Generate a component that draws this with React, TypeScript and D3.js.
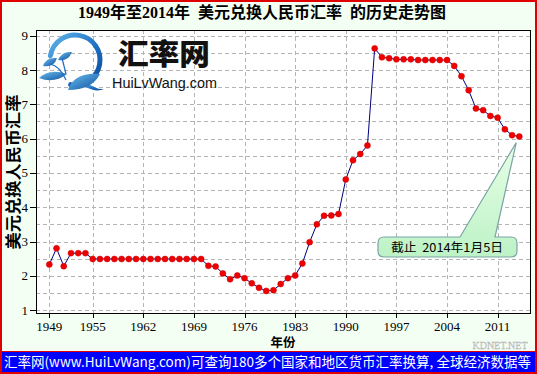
import React from "react";
import * as d3 from "d3";

const years = [
  1949, 1950, 1951, 1952, 1953, 1954, 1955, 1956, 1957, 1958, 1959, 1960, 1961, 1962, 1963, 1964,
  1965, 1966, 1967, 1968, 1969, 1970, 1971, 1972, 1973, 1974, 1975, 1976, 1977, 1978, 1979, 1980,
  1981, 1982, 1983, 1984, 1985, 1986, 1987, 1988, 1989, 1990, 1991, 1992, 1993, 1994, 1995, 1996,
  1997, 1998, 1999, 2000, 2001, 2002, 2003, 2004, 2005, 2006, 2007, 2008, 2009, 2010, 2011, 2012,
  2013, 2014,
];
const rates = [
  2.33, 2.8, 2.28, 2.66, 2.66, 2.66, 2.49, 2.49, 2.49, 2.49, 2.49, 2.49, 2.49, 2.49, 2.49, 2.49,
  2.49, 2.49, 2.49, 2.49, 2.49, 2.49, 2.29, 2.27, 2.07, 1.9, 2.01, 1.93, 1.78, 1.65, 1.56, 1.58,
  1.76, 1.93, 2.01, 2.36, 2.98, 3.5, 3.75, 3.76, 3.8, 4.81, 5.37, 5.55, 5.8, 8.63, 8.37, 8.34,
  8.31, 8.31, 8.31, 8.29, 8.29, 8.29, 8.29, 8.29, 8.12, 7.82, 7.41, 6.88, 6.83, 6.66, 6.61, 6.27,
  6.1, 6.06,
];
const xTickYears = [1949, 1955, 1962, 1969, 1976, 1983, 1990, 1997, 2004, 2011];
const yTicks = [1, 2, 3, 4, 5, 6, 7, 8, 9];
const yGrid = [1, 1.5, 2, 2.5, 3, 3.5, 4, 4.5, 5, 5.5, 6, 6.5, 7, 7.5, 8, 8.5, 9];

const titleText = "1949年至2014年  美元兑换人民币汇率  的历史走势图";
const yTitle = "美元兑换人民币汇率";
const xTitle = "年份";
const calloutText = "截止  2014年1月5日";
const bannerText = "汇率网(www.HuiLvWang.com)可查询180多个国家和地区货币汇率换算, 全球经济数据等";

const W = 537;
const H = 374;
const frame = { left: 36, right: 531, top: 30, bottom: 313 };

export default function App() {
  const x = d3.scaleLinear().domain([1949, 2014]).range([49.3, 519.3]);
  const y = d3.scaleLinear().domain([1, 9]).range([310.1, 35.7]);
  const pts = years.map((yr, i) => [x(yr), y(rates[i])] as [number, number]);
  const line = d3.line()(pts) || "";
  const last = pts[pts.length - 1];

  const serif = "'Liberation Serif', 'Noto Sans CJK SC', serif";
  const cjk = "'Noto Sans CJK SC', sans-serif";
  const pre = { whiteSpace: "pre" as const };

  const cx = 75, cy = 60, r = 25;
  const a0 = (190 * Math.PI) / 180, a1 = (100 * Math.PI) / 180;
  const ring = `M${cx + r * Math.cos(a0)},${cy + r * Math.sin(a0)} A${r},${r} 0 1 1 ${cx + r * Math.cos(a1)},${cy + r * Math.sin(a1)}`;

  return (
    <svg width={W} height={H} style={{ position: "absolute", left: 0, top: 0 }} xmlns="http://www.w3.org/2000/svg">
      <defs>
        <linearGradient id="ringG" x1="0" y1="0" x2="1" y2="1">
          <stop offset="0" stopColor="#5fb4ea" />
          <stop offset="0.6" stopColor="#1a6cc0" />
          <stop offset="1" stopColor="#0b4a98" />
        </linearGradient>
        <linearGradient id="leafG" x1="0" y1="0" x2="1" y2="1">
          <stop offset="0" stopColor="#6cc0f0" />
          <stop offset="1" stopColor="#0d4f9e" />
        </linearGradient>
        <linearGradient id="calG" x1="0" y1="0" x2="0" y2="1">
          <stop offset="0" stopColor="#e6ffe6" />
          <stop offset="1" stopColor="#bdf2c6" />
        </linearGradient>
      </defs>
      <rect x={0} y={0} width={W} height={H} fill="#f4fff4" />

      <text x={262} y={18} textAnchor="middle" fontFamily={serif} fontWeight="bold" fontSize={16} textLength={368} lengthAdjust="spacingAndGlyphs" fill="#000" style={pre}>
        {titleText}
      </text>

      <rect x={frame.left} y={frame.top} width={frame.right - frame.left} height={frame.bottom - frame.top} fill="#fff" />
      <g stroke="#b4b4b4" strokeWidth={1} strokeDasharray="4,3">
        {yGrid.map((v) => (
          <line key={"h" + v} x1={frame.left} x2={frame.right} y1={Math.round(y(v)) + 0.5} y2={Math.round(y(v)) + 0.5} />
        ))}
        {xTickYears.map((t) => (
          <line key={"v" + t} x1={Math.round(x(t)) + 0.5} x2={Math.round(x(t)) + 0.5} y1={frame.top} y2={frame.bottom} />
        ))}
      </g>

      <g>
        <path d={ring} fill="none" stroke="url(#ringG)" strokeWidth={5} strokeLinecap="round" />
        <path d="M86,82 Q96,90 104,89 Q96,93 84,86 Z" fill="url(#ringG)" />
        <path d="M68,90 Q74,72 100,74 Q92,90 68,90 Z" fill="url(#leafG)" />
        <path d="M39,78 Q50,68 67,74 Q54,84 39,78 Z" fill="url(#leafG)" />
        <path d="M43,66 Q46,57 57,58 Q54,68 43,66 Z" fill="url(#leafG)" />
        <path d="M58,60 Q62,51 72,52 Q68,62 58,60 Z" fill="url(#leafG)" />
        <path d="M50,64 Q60,66 66,80 M62,58 Q64,66 66,74" fill="none" stroke="#1a6cc0" strokeWidth={1.2} />
        <text x={118} y={65} fontFamily={cjk} fontWeight={900} fontSize={29} fill="#111" textLength={92} lengthAdjust="spacingAndGlyphs">
          汇率网
        </text>
        <text x={112} y={88} fontFamily="'Liberation Sans', Arial, sans-serif" fontSize={14.5} fill="#111" textLength={105} lengthAdjust="spacingAndGlyphs">
          HuiLvWang.com
        </text>
      </g>

      <rect x={frame.left + 0.5} y={frame.top + 0.5} width={frame.right - frame.left - 1} height={frame.bottom - frame.top} fill="none" stroke="#000" strokeWidth={1} />

      {yTicks.map((v) => (
        <g key={"yt" + v}>
          <line x1={30} x2={frame.left} y1={Math.round(y(v)) + 0.5} y2={Math.round(y(v)) + 0.5} stroke="#000" />
          <text x={28} y={y(v) + 4.5} textAnchor="end" fontFamily={serif} fontSize={13} fill="#000">
            {v}
          </text>
        </g>
      ))}
      {xTickYears.map((t) => (
        <g key={"xt" + t}>
          <line x1={Math.round(x(t)) + 0.5} x2={Math.round(x(t)) + 0.5} y1={frame.bottom} y2={frame.bottom + 5} stroke="#000" />
          <text x={x(t)} y={330.5} textAnchor="middle" fontFamily={serif} fontSize={13} fill="#000">
            {t}
          </text>
        </g>
      ))}

      <text x={283} y={347} textAnchor="middle" fontFamily={cjk} fontWeight="bold" fontSize={12.5} fill="#000">
        {xTitle}
      </text>
      <text transform={`translate(19,172) rotate(-90)`} textAnchor="middle" fontFamily={cjk} fontWeight="bold" fontSize={16} textLength={155} lengthAdjust="spacingAndGlyphs" fill="#000">
        {yTitle}
      </text>

      <path d={line} fill="none" stroke="#000080" strokeWidth={1} />
      {pts.map((p, i) => (
        <circle key={"p" + i} cx={p[0]} cy={p[1]} r={3} fill="#ee0000" stroke="#cc0000" strokeWidth={0.5} />
      ))}

      <g>
        <path
          d={`M384,237 L460,237 L${last[0] - 3},${last[1] + 6} L495,237 L511,237 Q517,237 517,243 L517,251 Q517,257 511,257 L384,257 Q378,257 378,251 L378,243 Q378,237 384,237 Z`}
          fill="url(#calG)"
          stroke="#7ba3a3"
          strokeWidth={1.2}
        />
        <text x={447} y={252} textAnchor="middle" fontFamily={cjk} fontSize={12} fill="#000" textLength={112} lengthAdjust="spacingAndGlyphs" style={pre}>
          {calloutText}
        </text>
      </g>

      <text x={500} y={349} textAnchor="middle" fontFamily="'Liberation Serif', serif" fontSize={10} fill="#d4d4d4" stroke="#b0b0b0" strokeWidth={0.3}>
        KDNET.NET
      </text>

      <rect x={1} y={352} width={535} height={20} fill="#0000ff" />
      <text x={4} y={367} fontFamily={cjk} fontSize={13.5} fill="#fff" textLength={527} lengthAdjust="spacingAndGlyphs">
        {bannerText}
      </text>
      <line x1={0} x2={W} y1={351.5} y2={351.5} stroke="#e00000" strokeWidth={1} />

      <rect x={1} y={1} width={W - 2} height={H - 2} fill="none" stroke="#e00000" strokeWidth={2} />
    </svg>
  );
}
